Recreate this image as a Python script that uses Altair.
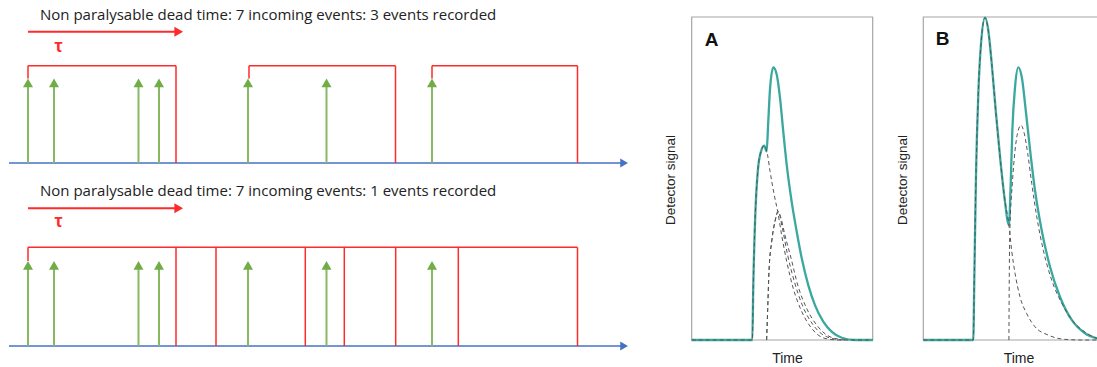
import altair as alt
import pandas as pd

W, H = 1097, 367

# ---------------- left diagrams (time in px units) ----------------
titles = ["Non paralysable dead time: 7 incoming events: 3 events recorded",
          "Non paralysable dead time: 7 incoming events: 1 events recorded"]
event_times = [28, 54, 138.5, 159, 248, 326.5, 432]
rec_starts_top = [28, 249, 432]
rec_ends_top = [176, 395.5, 577.5]
dead_start_bottom = 28
dead_ends_bottom = [176, 216, 305.3, 344.3, 395.7, 458.3, 577.5]
tau_start, tau_end = 28, 183
axis_start, axis_end = 9, 628

# ---------------- pulse panels (t: 0-100 across frame, s: 0-100 of frame height) ----------------
A_teal_t = [0, 33.5, 34.0, 35.0, 36.5, 38.3, 40.1, 41.4, 42.3, 43.3, 45.1, 47.0, 48.8, 50.6, 52.5,
            55.2, 58.0, 60.8, 64.4, 68.1, 72.7, 77.3, 82.9, 90.2, 100]
A_teal_s = [0, 0, 16.1, 36.7, 52.2, 58.4, 60.2, 58.4, 67.6, 78.0, 84.4, 82.1, 74.9, 64.5, 54.2,
            42.9, 33.6, 25.3, 17.0, 10.8, 5.7, 2.6, 0.7, 0, 0]
A_d1_t = [0, 33.5, 34.0, 35.0, 36.5, 38.3, 40.1, 42.0, 43.3, 45.6, 47.5, 49.7, 52.5, 56.1, 60.8,
          66.3, 73.6, 81.0, 100]
A_d1_s = [0, 0, 16.1, 36.7, 52.2, 58.4, 60.2, 57.0, 52.2, 44.9, 39.8, 32.5, 24.3, 16.0, 8.8,
          3.6, 0.5, 0, 0]
A_d2_t = [41.4, 42.0, 42.7, 44.2, 46.0, 47.8, 50.1, 53.0, 56.7, 61.1, 67.2, 74.6, 82.9]
A_d2_s = [0, 9.8, 21.2, 30.5, 36.7, 39.8, 34.6, 26.3, 18.1, 10.8, 4.6, 1.0, 0]
A_d3_t = [41.4, 42.0, 42.7, 44.2, 46.0, 47.8, 48.8, 51.5, 54.9, 58.6, 63.5, 69.1, 76.4, 84.7]
A_d3_s = [0, 9.8, 21.2, 30.5, 36.7, 39.8, 38.7, 32.5, 25.3, 17.0, 9.8, 4.6, 1.0, 0]

B_teal_t = [0, 27.6, 28.2, 29.1, 30.4, 31.9, 34.1, 35.9, 37.8, 40.0, 42.4, 44.8, 47.3, 48.3, 49.2,
            50.7, 52.5, 54.4, 56.6, 59.0, 61.7, 65.4, 70.0, 75.5, 82.0, 89.3, 95.9, 100]
B_teal_s = [0, 0, 19.6, 50.5, 76.3, 91.8, 99.8, 95.9, 85.6, 71.1, 56.7, 44.3, 35.6, 48.5, 65.0,
            78.4, 84.4, 81.4, 71.1, 58.8, 46.4, 34.0, 22.7, 13.4, 6.2, 2.1, 0.5, 0]
B_d1_t = [0, 27.6, 28.2, 29.1, 30.4, 31.9, 34.1, 35.9, 37.8, 40.0, 42.4, 44.8, 47.3,
          48.8, 50.7, 53.4, 57.1, 61.7, 69.1, 78.3, 87.5, 100]
B_d1_s = [0, 0, 19.6, 50.5, 76.3, 91.8, 99.8, 95.9, 85.6, 71.1, 56.7, 44.3, 35.6,
          27.8, 20.6, 13.4, 8.2, 4.1, 1.5, 0.2, 0, 0]
B_d2_t = [47.3, 47.5, 47.9, 49.2, 50.7, 52.5, 54.0, 55.8, 57.7, 59.9, 62.7, 66.3, 70.9, 76.5,
          82.9, 90.3, 95.9, 100]
B_d2_s = [0, 19.6, 35.0, 48.5, 58.8, 65.0, 66.5, 63.9, 57.7, 48.5, 38.1, 27.8, 18.6, 11.4,
          5.7, 2.1, 0.5, 0]

panel_labels = ["A", "B"]
axis_title_y = "Detector signal"
axis_title_x = "Time"

# ---------------- layout ----------------
rows = [dict(base=163, top=65.7, tip=78.5, title=15, arrow=31.7, tau=46.7),
        dict(base=346, top=247.3, tip=261, title=191, arrow=208.3, tau=221.7)]
frames = [dict(x=691.7, x2=872.7, y=17, y2=340), dict(x=923.3, x2=1104.3, y=17, y2=340)]

RED, GREEN, GREEN_HEAD, BLUE = "#ff2a2a", "#86b962", "#70ad47", "#4472c4"
TEAL, DASH = "#3aa89f", "#555555"

X = alt.X("x:Q", scale=alt.Scale(domain=[0, W], nice=False, zero=False), axis=None)
Y = alt.Y("y:Q", scale=alt.Scale(domain=[0, H], nice=False, zero=False, reverse=True), axis=None)

# segments
red, green, blue = [], [], []
r0, r1 = rows
for s, e in zip(rec_starts_top, rec_ends_top):
    red += [(s, r0["top"], s, r0["tip"]), (s, r0["top"], e, r0["top"]), (e, r0["top"], e, r0["base"])]
red += [(dead_start_bottom, r1["top"], dead_ends_bottom[-1], r1["top"]),
        (dead_start_bottom, r1["top"], dead_start_bottom, r1["tip"])]
for e in dead_ends_bottom:
    red.append((e, r1["top"], e, r1["base"]))
red_arrows, red_heads, green_heads, blue_heads = [], [], [], []
for r in rows:
    red_arrows.append((tau_start, r["arrow"], tau_end - 6, r["arrow"]))
    red_heads.append((tau_end - 4.3, r["arrow"]))
    for t in event_times:
        green.append((t, r["base"], t, r["tip"] + 6))
        green_heads.append((t, r["tip"] + 4.3))
    blue.append((axis_start, r["base"], axis_end - 5, r["base"]))
    blue_heads.append((axis_end - 3.9, r["base"]))


def segdf(lst):
    return pd.DataFrame(lst, columns=["x", "y", "x2", "y2"])


def ptdf(lst):
    return pd.DataFrame(lst, columns=["x", "y"])


def rules(lst, color, width):
    return alt.Chart(segdf(lst)).mark_rule(color=color, strokeWidth=width).encode(
        x=X, y=Y, x2="x2:Q", y2="y2:Q")


def heads(lst, color, shape, size):
    return alt.Chart(ptdf(lst)).mark_point(filled=True, color=color, shape=shape, size=size,
                                           opacity=1).encode(x=X, y=Y)


# curves
curve_rows = []
def add_curve(name, kind, fr, ts, ss):
    w = fr["x2"] - fr["x"]
    h = fr["y2"] - fr["y"]
    for i, (t, s) in enumerate(zip(ts, ss)):
        curve_rows.append(dict(curve=name, kind=kind, i=i, x=fr["x"] + t / 100 * w,
                               y=fr["y2"] - s / 100 * h))

add_curve("A_teal", "teal", frames[0], A_teal_t, A_teal_s)
add_curve("B_teal", "teal", frames[1], B_teal_t, B_teal_s)
add_curve("A_d1", "dash", frames[0], A_d1_t, A_d1_s)
add_curve("A_d2", "dash", frames[0], A_d2_t, A_d2_s)
add_curve("A_d3", "dash", frames[0], A_d3_t, A_d3_s)
add_curve("B_d1", "dash", frames[1], B_d1_t, B_d1_s)
add_curve("B_d2", "dash", frames[1], B_d2_t, B_d2_s)
cdf = pd.DataFrame(curve_rows)

teal = alt.Chart(cdf[cdf.kind == "teal"]).mark_line(
    color=TEAL, strokeWidth=2.3, interpolate="monotone").encode(
    x=X, y=Y, detail="curve:N", order="i:Q")
dashed = alt.Chart(cdf[cdf.kind == "dash"]).mark_line(
    color=DASH, strokeWidth=1, strokeDash=[4, 3], interpolate="monotone").encode(
    x=X, y=Y, detail="curve:N", order="i:Q")

frame_layer = alt.Chart(pd.DataFrame(frames)).mark_rect(
    fill="white", fillOpacity=0, stroke="#a6a6a6", strokeWidth=1.2).encode(
    x=X, y=Y, x2="x2:Q", y2="y2:Q")

# texts
title_df = pd.DataFrame([dict(x=40, y=r["title"], text=t) for r, t in zip(rows, titles)])
title_layer = alt.Chart(title_df).mark_text(
    align="left", baseline="middle", font="Open Sans", fontSize=15, color="#222222").encode(
    x=X, y=Y, text="text:N")
tau_df = pd.DataFrame([dict(x=58.5, y=r["tau"], text="τ") for r in rows])
tau_layer = alt.Chart(tau_df).mark_text(
    align="center", baseline="middle", font="Liberation Sans", fontSize=18, fontWeight="bold",
    color=RED).encode(x=X, y=Y, text="text:N")
lab_df = pd.DataFrame([dict(x=711.7, y=40, text=panel_labels[0]),
                       dict(x=942.5, y=39, text=panel_labels[1])])
lab_layer = alt.Chart(lab_df).mark_text(
    align="center", baseline="middle", font="Liberation Sans", fontSize=19, fontWeight="bold",
    color="#111111").encode(x=X, y=Y, text="text:N")
ytitle_df = pd.DataFrame([dict(x=671, y=180, text=axis_title_y), dict(x=903, y=180, text=axis_title_y)])
ytitle_layer = alt.Chart(ytitle_df).mark_text(
    align="center", baseline="middle", font="Liberation Sans", fontSize=13.5, angle=270,
    color="#222222").encode(x=X, y=Y, text="text:N")
xtitle_df = pd.DataFrame([dict(x=787.5, y=359, text=axis_title_x), dict(x=1019, y=359, text=axis_title_x)])
xtitle_layer = alt.Chart(xtitle_df).mark_text(
    align="center", baseline="middle", font="Liberation Sans", fontSize=14,
    color="#222222").encode(x=X, y=Y, text="text:N")

chart = alt.layer(
    frame_layer,
    rules(blue, BLUE, 1.5), heads(blue_heads, BLUE, "triangle-right", 80),
    rules(green, GREEN, 2), heads(green_heads, GREEN_HEAD, "triangle-up", 100),
    rules(red, RED, 1.5),
    rules(red_arrows, RED, 2), heads(red_heads, RED, "triangle-right", 100),
    title_layer, tau_layer,
    teal, dashed,
    lab_layer, ytitle_layer, xtitle_layer,
).properties(
    width=W, height=H, padding=0, autosize=alt.AutoSizeParams(type="none"),
    background="white"
).configure_view(stroke=None)

chart.save("out.html", embed_options={"renderer": "svg", "actions": False})
